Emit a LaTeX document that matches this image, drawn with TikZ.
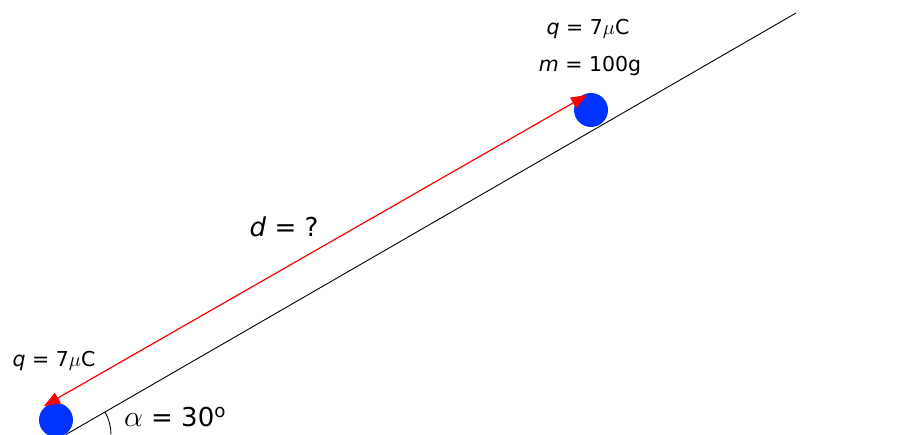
\documentclass[tikz,border=0pt]{standalone}
\usepackage{fix-cm}
\usepackage{fontspec}
\setmainfont{DejaVu Sans}
\usetikzlibrary{arrows.meta,calc}
\definecolor{ballblue}{RGB}{0,51,255}
\tikzset{
  ball/.style={circle,fill=ballblue,minimum size=34pt,inner sep=0pt},
  smalltxt/.style={font=\fontsize{20.5}{23}\selectfont,inner sep=0pt},
  bigtxt/.style={font=\fontsize{26}{29}\selectfont,inner sep=0pt},
  incline/.style={black,line width=0.9pt},
  dist/.style={red,line width=1.2pt,{Triangle[length=16pt,width=12pt]}-{Triangle[length=16pt,width=12pt]}}
}
\begin{document}
\begin{tikzpicture}[x=1pt,y=1pt]
\useasboundingbox (0,0) rectangle (899,434);
\coordinate (O) at (66,-0.5);
\coordinate (E) at ($(O)+(30:843)$);
\draw[incline] (O) -- (E);
\draw[incline] ($(O)+(45,0)$) arc (0:30:45);
\node[ball] (B1) at (56,14) {};
\node[ball] (B2) at (591,324) {};
\coordinate (A1) at (44,28);
\coordinate (A2) at (587,339);
\draw[dist] (A2) -- (A1);
\node[smalltxt] (q1) at (54,73) {\textit{q} = 7$\mu$C};
\node[smalltxt] (q2) at (588,405) {\textit{q} = 7$\mu$C};
\node[smalltxt] (m2) at (590,368) {\textit{m} = 100g};
\node[bigtxt] (d) at (284,207) {\textit{d} = ?};
\node[bigtxt] (al) at (175,17) {{\fontsize{30}{32}\selectfont$\alpha$} = 30\textsuperscript{o}};
\end{tikzpicture}
\end{document}
